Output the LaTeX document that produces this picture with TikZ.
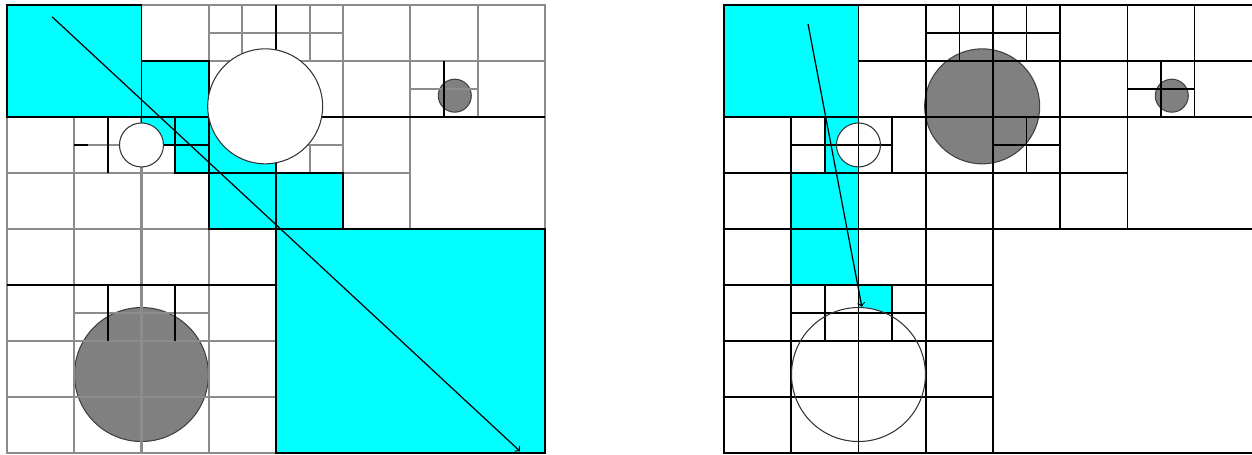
\documentclass[tikz,border=0pt]{standalone}
\usepackage{xcolor}
\usepackage{tikz}

\definecolor{celeste}{RGB}{0,255,255}

\begin{document}
\begin{tikzpicture}[x=0.02cm, y=-0.02cm,
    celda/.style={fill=celeste, draw=black, line width=0.9pt},
    lineagris/.style={black!45, line width=1.2pt},
    lineanegra/.style={black, line width=0.9pt},
    esfera/.style={fill=gray, draw=black!75, line width=0.6pt},
    hueco/.style={draw=black!80, line width=0.6pt},
    rayo/.style={->, line width=0.7pt}]

	% Marco de la figura
	\useasboundingbox (0,0) rectangle (1252,455);
	\clip (0,0) rectangle (1252,455);

	% Cuadricula izquierda
	\begin{scope}[shift={(7,5)}, x=1.345cm, y=-1.12cm]
		% Esferas grises
		\draw[esfera] (6.66,1.62) circle[radius=0.33cm];
		\draw[esfera] (2,6.6) circle[radius=1.34cm];

		% Rejilla fina (gris)
		\draw[lineagris] (0,0) rectangle (8,8)
			(1,2) -- (1,8) (2,2) -- (2,8) (3,0) -- (3,1) (3,4) -- (3,8)
			(3.5,0) -- (3.5,1) (4.5,0) -- (4.5,1) (4.5,2.5) -- (4.5,3)
			(5,0) -- (5,3) (6,0) -- (6,4) (7,0) -- (7,2);
		\draw[lineagris] (3,0.5) -- (5,0.5) (3,1) -- (8,1) (6,1.5) -- (7,1.5)
			(1,2.5) -- (2.5,2.5) (4,2.5) -- (5,2.5) (0,3) -- (2.5,3) (5,3) -- (6,3)
			(0,4) -- (4,4) (1,5.5) -- (3,5.5) (0,6) -- (4,6) (0,7) -- (4,7);

		% Celdas que atraviesa el rayo
		\draw[celda] (0,0) rectangle (2,2);
		\draw[celda] (2,1) rectangle (3,2);
		\draw[celda] (2,2) rectangle (2.5,2.5);
		\draw[celda] (2.5,2) rectangle (3,2.5);
		\draw[celda] (2.5,2.5) rectangle (3,3);
		\draw[celda] (3,2) rectangle (4,3);
		\draw[celda] (3,3) rectangle (4,4);
		\draw[celda] (4,3) rectangle (5,4);
		\draw[celda] (4,4) rectangle (8,8);

		% Lineas del arbol (negro)
		\draw[lineanegra] (4,0) -- (4,1) (3,2) -- (8,2) (1.5,2) -- (1.5,3)
			(6.5,1) -- (6.5,2) (0,5) -- (4,5) (1.5,5) -- (1.5,6) (2.5,5) -- (2.5,6)
			(1,2.5) -- (1.2,2.5);
		\draw[lineanegra, line width=1.5pt] (2.5,2.5) -- (3,2.5);

		% Esferas blancas
		\draw[hueco, fill=white] (3.84,1.81) circle[radius=1.15cm];
		\draw[hueco, fill=white] (2,2.5) circle[radius=0.44cm];

		% Rayo
		\coordinate (inicioIzq) at (0.67,0.21);
		\coordinate (finIzq) at (7.63,7.97);
		\draw[rayo] (inicioIzq) -- (finIzq);
	\end{scope}

	% Cuadricula derecha
	\begin{scope}[shift={(724,5)}, x=1.345cm, y=-1.12cm]
		% Celdas que atraviesa el rayo
		\draw[celda] (0,0) rectangle (2,2);
		\draw[celda] (1.5,2) rectangle (2,2.5);
		\draw[celda] (1.5,2.5) rectangle (2,3);
		\draw[celda] (1,3) rectangle (2,4);
		\draw[celda] (1,4) rectangle (2,5);
		\draw[celda] (2,5) rectangle (2.5,5.5);

		% Esferas grises y fondo de las blancas
		\draw[esfera] (3.84,1.81) circle[radius=1.15cm];
		\draw[esfera] (6.66,1.62) circle[radius=0.33cm];
		\fill[white] (2,2.5) circle[radius=0.44cm];
		\fill[white] (2,6.6) circle[radius=1.34cm];

		% Lineas del arbol
		\draw[lineanegra] (0,0) rectangle (8,8)
			(1,2) -- (1,8) (1.5,2) -- (1.5,3) (1.5,5) -- (1.5,6)
			(2,0) -- (2,8) (2.5,2) -- (2.5,3) (2.5,5) -- (2.5,6)
			(3,0) -- (3,8) (3.5,0) -- (3.5,1) (4,0) -- (4,8)
			(4.5,0) -- (4.5,1) (4.5,2) -- (4.5,3) (5,0) -- (5,4)
			(6,0) -- (6,4) (6.5,1) -- (6.5,2) (7,0) -- (7,2);
		\draw[lineanegra] (3,0.5) -- (5,0.5) (2,1) -- (8,1) (6,1.5) -- (7,1.5)
			(0,2) -- (8,2) (1,2.5) -- (2.5,2.5) (4,2.5) -- (5,2.5)
			(0,3) -- (6,3) (0,4) -- (8,4) (0,5) -- (4,5) (1,5.5) -- (3,5.5)
			(0,6) -- (4,6) (0,7) -- (4,7);

		% Esferas blancas
		\draw[hueco] (2,2.5) circle[radius=0.44cm];
		\draw[hueco] (2,6.6) circle[radius=1.34cm];

		% Rayo
		\coordinate (inicioDer) at (1.25,0.34);
		\coordinate (finDer) at (2.05,5.39);
		\draw[rayo] (inicioDer) -- (finDer);
	\end{scope}
\end{tikzpicture}
\end{document}
